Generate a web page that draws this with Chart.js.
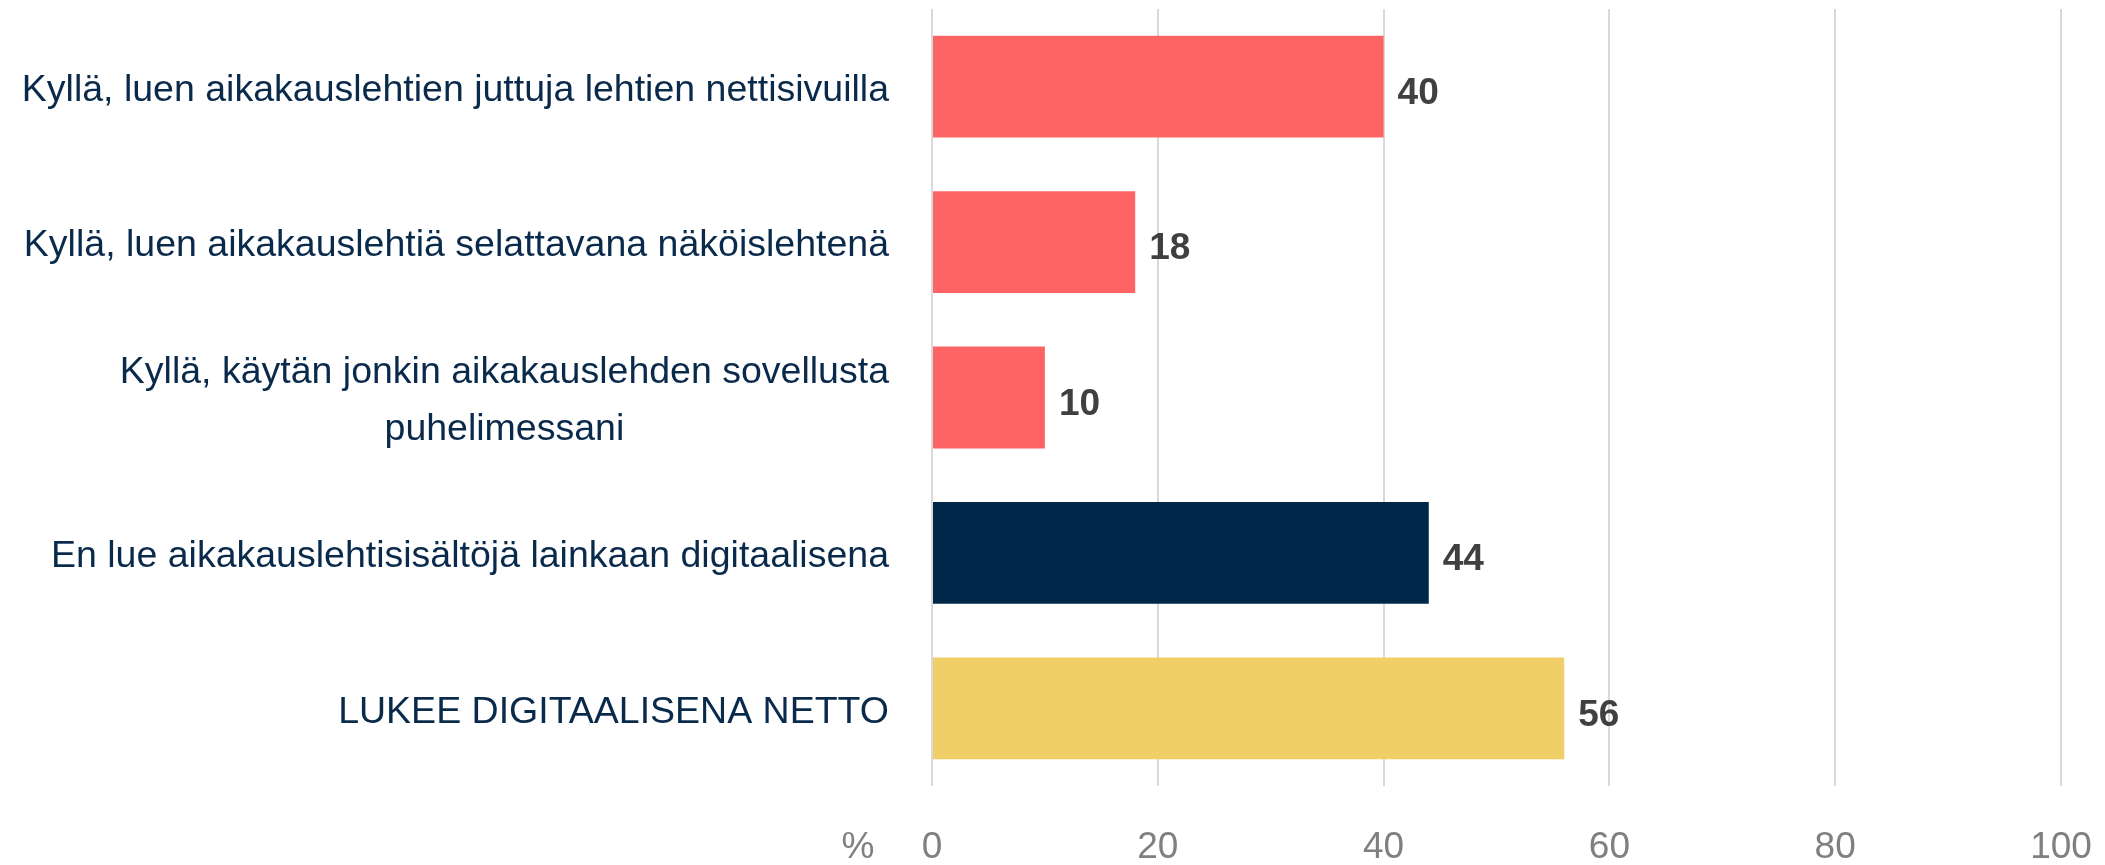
<!DOCTYPE html>
<html>
<head>
<meta charset="utf-8">
<script src="https://cdn.jsdelivr.net/npm/chart.js@4.4.0/dist/chart.umd.min.js"></script>
<style>
  html, body { margin: 0; padding: 0; background: #fff; overflow: hidden; }
  canvas { display: block; }
</style>
</head>
<body>
<canvas id="grafico" width="2105" height="865"></canvas>
<script>
// Dados do gráfico
const categorias = [
    ['Kyllä, luen aikakauslehtien juttuja lehtien nettisivuilla'],
    ['Kyllä, luen aikakauslehtiä selattavana näköislehtenä'],
    ['Kyllä, käytän jonkin aikakauslehden sovellusta', 'puhelimessani'],
    ['En lue aikakauslehtisisältöjä lainkaan digitaalisena'],
    ['LUKEE DIGITAALISENA NETTO']
];
const valores = [40, 18, 10, 44, 56];
const ticksX = [0, 20, 40, 60, 80, 100];
const unidade = '%';

const coresBarras = ['#FF6464', '#FF6464', '#FF6464', '#00274A', '#F0CF69'];
const fonte = '"Liberation Sans", Arial, sans-serif';

// Rótulos das categorias (centrados entre si, alinhados à direita do eixo)
const rotulosCategorias = {
    id: 'rotulosCategorias',
    afterDraw(chart) {
        const ctx = chart.ctx;
        const ys = chart.scales.y;
        const direita = ys.right - 43;
        const alturaLinha = 57;
        ctx.save();
        ctx.font = '37.5px ' + fonte;
        ctx.fillStyle = '#0A2A4C';
        ctx.textAlign = 'center';
        ctx.textBaseline = 'middle';
        categorias.forEach((linhas, i) => {
            const yc = ys.getPixelForValue(i) + 4;
            const larg = Math.max(...linhas.map(l => ctx.measureText(l).width));
            const xc = direita - larg / 2;
            const y0 = yc - (linhas.length - 1) * alturaLinha / 2;
            linhas.forEach((l, k) => ctx.fillText(l, xc, y0 + k * alturaLinha));
        });
        ctx.restore();
    }
};

// Valores ao lado das barras + sinal de %
const rotulosValores = {
    id: 'rotulosValores',
    afterDatasetsDraw(chart) {
        const ctx = chart.ctx;
        const meta = chart.getDatasetMeta(0);
        ctx.save();
        ctx.font = 'bold 37px ' + fonte;
        ctx.fillStyle = '#404040';
        ctx.textAlign = 'left';
        ctx.textBaseline = 'middle';
        meta.data.forEach((bar, i) => {
            ctx.fillText(String(valores[i]), bar.x + 14, bar.y + 7);
        });
        // unidade à esquerda do eixo x
        const xs = chart.scales.x;
        const item = xs.getLabelItems()[0];
        if (item) {
            ctx.font = '37px ' + fonte;
            ctx.fillStyle = '#808080';
            ctx.textAlign = 'center';
            ctx.textBaseline = item.options.textBaseline;
            ctx.fillText(unidade, xs.left - 74, item.options.translation[1] + item.textOffset);
        }
        ctx.restore();
    }
};

new Chart(document.getElementById('grafico'), {
    type: 'bar',
    data: {
        labels: categorias.map(c => c.join(' ')),
        datasets: [{
            data: valores,
            backgroundColor: coresBarras,
            borderWidth: 0,
            barPercentage: 0.655,
            categoryPercentage: 1
        }]
    },
    options: {
        indexAxis: 'y',
        responsive: false,
        devicePixelRatio: 1,
        animation: false,
        layout: { padding: { top: 9, right: 44, bottom: 0, left: 0 } },
        plugins: {
            legend: { display: false },
            tooltip: { enabled: false }
        },
        scales: {
            x: {
                min: 0,
                max: 100,
                afterBuildTicks(scale) {
                    scale.ticks = ticksX.map(v => ({ value: v }));
                },
                afterFit(scale) {
                    scale.height = 79;
                    scale.paddingLeft = 0;
                    scale.paddingRight = 0;
                },
                ticks: {
                    color: '#808080',
                    padding: 40,
                    font: { family: fonte, size: 37 }
                },
                grid: {
                    color: '#D9D9D9',
                    lineWidth: 2,
                    drawTicks: false
                },
                border: { display: false }
            },
            y: {
                ticks: { display: false },
                grid: { display: false },
                border: { display: false },
                afterFit(scale) {
                    scale.width = 932;
                }
            }
        }
    },
    plugins: [rotulosCategorias, rotulosValores]
});
</script>
</body>
</html>
